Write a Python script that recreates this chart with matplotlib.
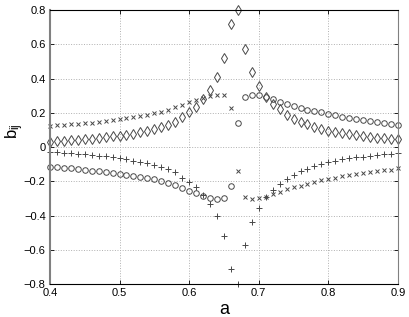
import numpy as np
import matplotlib
matplotlib.use('Agg')
import matplotlib.pyplot as plt

plt.rcParams['font.family'] = ['Liberation Sans', 'DejaVu Sans']
plt.rcParams['mathtext.default'] = 'regular'

# parameter a, sampled every 0.01
a = np.linspace(0.40, 0.90, 51)

b_cross = [0.124, 0.128, 0.131, 0.133, 0.135, 0.139, 0.143, 0.147, 0.151, 0.157,
           0.163, 0.168, 0.174, 0.182, 0.190, 0.198, 0.207, 0.219, 0.232, 0.248,
           0.262, 0.275, 0.287, 0.300, 0.306, 0.304, 0.230, -0.139, -0.289, -0.304,
           -0.300, -0.289, -0.275, -0.260, -0.246, -0.234, -0.225, -0.213, -0.203, -0.193,
           -0.185, -0.178, -0.170, -0.164, -0.156, -0.150, -0.145, -0.139, -0.135, -0.131,
           -0.125]

b_diamond = [0.032, 0.034, 0.036, 0.039, 0.042, 0.045, 0.049, 0.053, 0.057, 0.062,
             0.067, 0.073, 0.079, 0.086, 0.094, 0.104, 0.115, 0.128, 0.145, 0.175,
             0.205, 0.236, 0.281, 0.334, 0.407, 0.522, 0.718, 0.800, 0.573, 0.440,
             0.357, 0.293, 0.252, 0.220, 0.188, 0.165, 0.146, 0.132, 0.119, 0.105,
             0.094, 0.087, 0.080, 0.074, 0.068, 0.064, 0.059, 0.056, 0.052, 0.049,
             0.046]

b_plus = [-0.026, -0.030, -0.032, -0.034, -0.038, -0.042, -0.045, -0.050, -0.053, -0.059,
          -0.065, -0.071, -0.079, -0.086, -0.094, -0.104, -0.115, -0.129, -0.143, -0.178,
          -0.203, -0.236, -0.279, -0.331, -0.405, -0.520, -0.712, -0.798, -0.572, -0.436,
          -0.355, -0.292, -0.248, -0.215, -0.187, -0.162, -0.142, -0.126, -0.113, -0.097,
          -0.088, -0.080, -0.072, -0.066, -0.060, -0.055, -0.050, -0.046, -0.042, -0.039,
          -0.036]

b_circle = [-0.114, -0.117, -0.121, -0.125, -0.129, -0.133, -0.137, -0.141, -0.145, -0.150,
            -0.156, -0.162, -0.168, -0.174, -0.181, -0.189, -0.197, -0.207, -0.222, -0.240,
            -0.258, -0.269, -0.285, -0.296, -0.304, -0.300, -0.226, 0.143, 0.293, 0.306,
            0.303, 0.293, 0.279, 0.265, 0.250, 0.242, 0.229, 0.217, 0.211, 0.203,
            0.194, 0.188, 0.178, 0.170, 0.164, 0.159, 0.155, 0.147, 0.143, 0.137,
            0.131]

fig = plt.figure(figsize=(4.09, 3.17), dpi=100)
ax = fig.add_axes([0.122, 0.104, 0.851, 0.864])

col = '#484848'
ax.plot(a, b_cross, 'x', color=col, ms=3.5, mew=0.7, clip_on=False)
ax.plot(a, b_diamond, 'd', mfc='none', mec=col, ms=5, mew=0.7, clip_on=False)
ax.plot(a, b_plus, '+', color=col, ms=4.5, mew=0.7, clip_on=False)
ax.plot(a, b_circle, 'o', mfc='none', mec=col, ms=4.0, mew=0.7, clip_on=False)

ax.set_xlim(0.4, 0.9)
ax.set_ylim(-0.8, 0.8)
ax.set_xticks([0.4, 0.5, 0.6, 0.7, 0.8, 0.9])
ax.set_xticklabels(['0.4', '0.5', '0.6', '0.7', '0.8', '0.9'])
ax.set_yticks([-0.8, -0.6, -0.4, -0.2, 0, 0.2, 0.4, 0.6, 0.8])
ax.set_yticklabels(['\u22120.8', '\u22120.6', '\u22120.4', '\u22120.2', '0',
                    '0.2', '0.4', '0.6', '0.8'])
ax.grid(True, linestyle=':', color='#b0b0b0', linewidth=0.7)
ax.tick_params(direction='in', length=3, width=0.6, labelsize=8,
               top=True, right=True, pad=3)
for s in ['top', 'bottom']:
    ax.spines[s].set_linewidth(0.8)
ax.spines['left'].set_color('#808080')
ax.spines['left'].set_linewidth(1.5)
ax.spines['right'].set_color('#808080')
ax.spines['right'].set_linewidth(0.8)

ax.set_xlabel('a', fontsize=13, labelpad=2)
ax.set_ylabel('b$_{ij}$', fontsize=12)
ax.yaxis.set_label_coords(-0.068, 0.56)

fig.savefig('out.png', dpi=100)
